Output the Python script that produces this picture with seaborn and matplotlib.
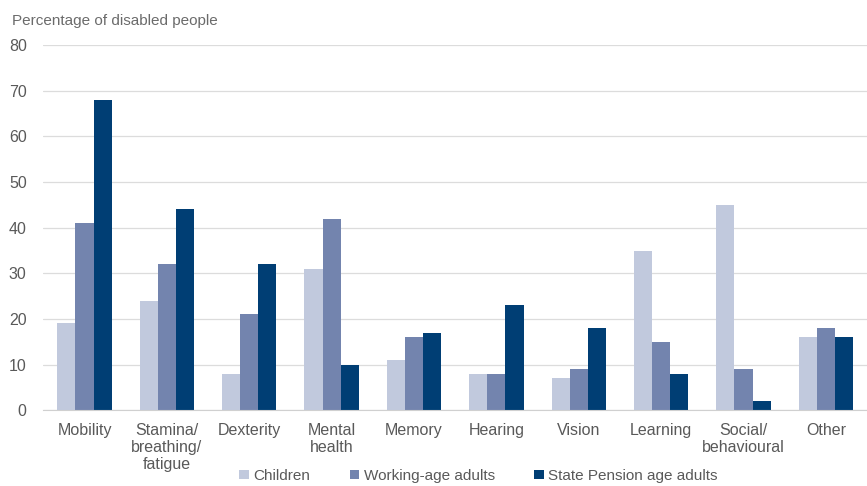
import pandas as pd
import seaborn as sns
import matplotlib.pyplot as plt

categories = ["Mobility", "Stamina/\nbreathing/\nfatigue", "Dexterity", "Mental\nhealth", "Memory",
              "Hearing", "Vision", "Learning", "Social/\nbehavioural", "Other"]
children = [19, 24, 8, 31, 11, 8, 7, 35, 45, 16]
working_age = [41, 32, 21, 42, 16, 8, 9, 15, 9, 18]
pension_age = [68, 44, 32, 10, 17, 23, 18, 8, 2, 16]
groups = ["Children", "Working-age adults", "State Pension age adults"]
colors = ["#c1c9dd", "#7384ae", "#003e74"]

df = pd.DataFrame({"category": categories * 3,
                   "group": [groups[0]] * 10 + [groups[1]] * 10 + [groups[2]] * 10,
                   "value": children + working_age + pension_age})

sns.set_style("white")
plt.rcParams["font.family"] = ["Liberation Sans", "DejaVu Sans"]

fig = plt.figure(figsize=(8.67, 4.86), dpi=100)
ax = fig.add_axes([0.05, 0.156, 0.95, 0.751])
sns.barplot(data=df, x="category", y="value", hue="group", palette=colors,
            width=0.66, ax=ax, saturation=1, linewidth=0, legend=True)

ax.set_ylim(0, 80)
ax.set_xlim(-0.5, 9.5)
ax.set_yticks(range(0, 81, 10))
ax.yaxis.grid(True, color="#dcdcdc", linewidth=0.9)
ax.set_axisbelow(True)
for s in ["top", "right", "left"]:
    ax.spines[s].set_visible(False)
ax.spines["bottom"].set_color("#d0d0d0")
ax.tick_params(axis="both", length=0, labelsize=11.5, colors="#595959")
ax.tick_params(axis="y", pad=12)
ax.tick_params(axis="x", pad=9)
for lab in ax.get_xticklabels():
    lab.set_linespacing(1.2)
ax.set_xlabel("")
ax.set_ylabel("")
fig.text(0.014, 0.948, "Percentage of disabled people", fontsize=11, color="#6b6b6b")

handles, labels = ax.get_legend_handles_labels()
ax.get_legend().remove()
fig.legend(handles, labels, loc="lower center", bbox_to_anchor=(0.552, -0.022), ncol=3,
           frameon=False, fontsize=11, handlelength=0.6, handleheight=0.6,
           handletextpad=0.3, columnspacing=2.6, labelcolor="#595959")

fig.savefig("out.png", dpi=100)
